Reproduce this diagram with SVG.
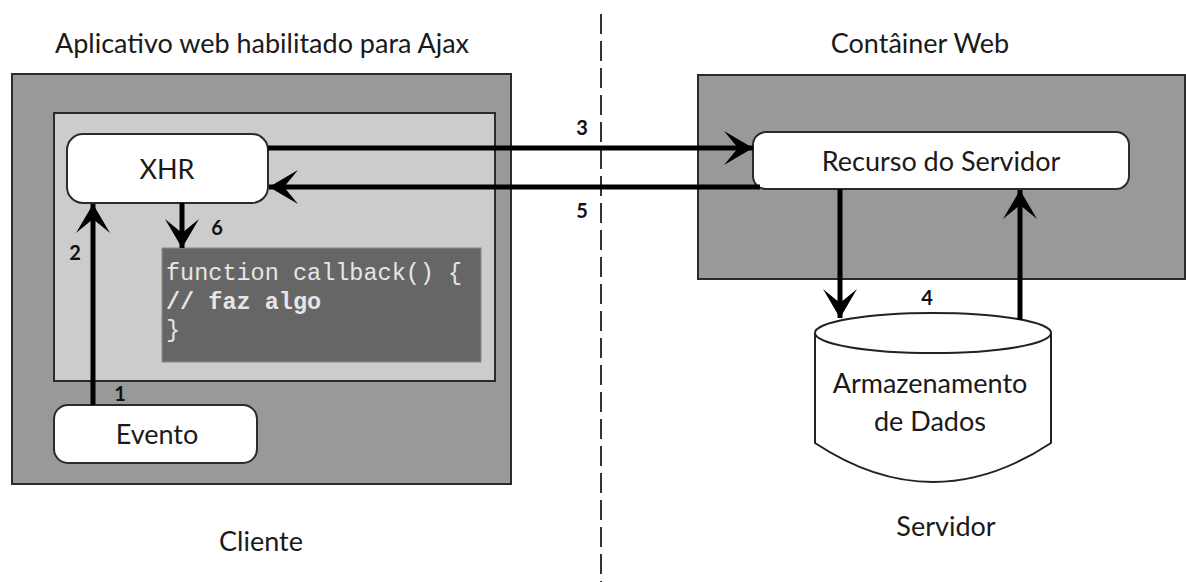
<svg xmlns="http://www.w3.org/2000/svg" width="1186" height="582" viewBox="0 0 1186 582">
  <style>
    .lbl { font-family: Lato, "Liberation Sans", sans-serif; fill: #1a1a1a; text-anchor: middle; dominant-baseline: central; }
    .head { font-size: 27px; }
    .node { font-size: 27px; }
    .num { font-family: Lato, "Liberation Sans", sans-serif; font-size: 20px; font-weight: bold; fill: #111; text-anchor: middle; dominant-baseline: central; }
    .code { font-family: "Liberation Mono", "DejaVu Sans Mono", monospace; font-size: 23.5px; fill: #e6e6e6; dominant-baseline: central; }
    .frame { fill: #999999; stroke: #2b2b2b; stroke-width: 2; }
    .inner { fill: #cccccc; stroke: #2b2b2b; stroke-width: 2; }
    .box { fill: #ffffff; stroke: #2b2b2b; stroke-width: 2; }
    .conn { fill: none; stroke: #000; stroke-width: 5; marker-end: url(#head); }
  </style>
  <defs>
    <marker id="head" markerUnits="userSpaceOnUse" viewBox="-30 -18 32 36" refX="0" refY="0" markerWidth="32" markerHeight="36" orient="auto">
      <path d="M0,0 L-29,-17 L-15,0 L-29,17 Z" fill="#000"/>
    </marker>
  </defs>

  <!-- boundary between client and server -->
  <line x1="601" y1="14" x2="601" y2="582" stroke="#333" stroke-width="2" stroke-dasharray="20 7"/>

  <!-- headings -->
  <text class="lbl head" x="262" y="42">Aplicativo web habilitado para Ajax</text>
  <text class="lbl head" x="920" y="42">Contâiner Web</text>
  <text class="lbl head" x="261" y="540">Cliente</text>
  <text class="lbl head" x="946" y="525">Servidor</text>

  <!-- client side -->
  <g id="cliente">
    <rect class="frame" x="12" y="74" width="499" height="410"/>
    <rect class="inner" x="54" y="113" width="441" height="268"/>
  </g>
  <g id="xhr">
    <rect class="box" x="67" y="134" width="201" height="69" rx="16"/>
    <text class="lbl node" x="167" y="168">XHR</text>
  </g>
  <g id="callback">
    <rect x="162" y="248" width="319" height="114" fill="#666666" stroke="#8a8a8a" stroke-width="1"/>
    <text class="code" x="166" y="273">function callback() {</text>
    <text class="code" x="166" y="302" font-weight="bold" fill="#ffffff">// faz algo</text>
    <text class="code" x="166" y="330">}</text>
  </g>
  <g id="evento">
    <rect class="box" x="54" y="405" width="203" height="58" rx="14"/>
    <text class="lbl node" x="157" y="433">Evento</text>
  </g>

  <!-- server side -->
  <g id="container">
    <rect class="frame" x="698" y="75" width="487" height="204"/>
  </g>
  <g id="recurso">
    <rect class="box" x="753" y="132" width="376" height="57" rx="13"/>
    <text class="lbl node" x="941" y="160">Recurso do Servidor</text>
  </g>
  <g id="dados">
    <path d="M815,333 L815,443 Q933,521 1051,443 L1051,333" fill="#fff" stroke="#222" stroke-width="2"/>
    <ellipse cx="933" cy="333" rx="118" ry="20" fill="#fff" stroke="#222" stroke-width="2"/>
    <text class="lbl node" x="930" y="382">Armazenamento</text>
    <text class="lbl node" x="930" y="420">de Dados</text>
  </g>

  <!-- connectors -->
  <g id="connectors">
    <line class="conn" x1="93" y1="405" x2="93" y2="204"/>
    <line class="conn" x1="182" y1="203" x2="182" y2="248"/>
    <line class="conn" x1="268" y1="148" x2="753" y2="148"/>
    <line class="conn" x1="760" y1="187" x2="269" y2="187"/>
    <line class="conn" x1="840" y1="189" x2="840" y2="318"/>
    <line class="conn" x1="1020" y1="320" x2="1020" y2="190"/>
    <text class="num" x="120" y="393">1</text>
    <text class="num" x="75" y="252">2</text>
    <text class="num" x="582" y="127">3</text>
    <text class="num" x="927" y="297">4</text>
    <text class="num" x="582" y="210">5</text>
    <text class="num" x="217" y="227">6</text>
  </g>
</svg>
